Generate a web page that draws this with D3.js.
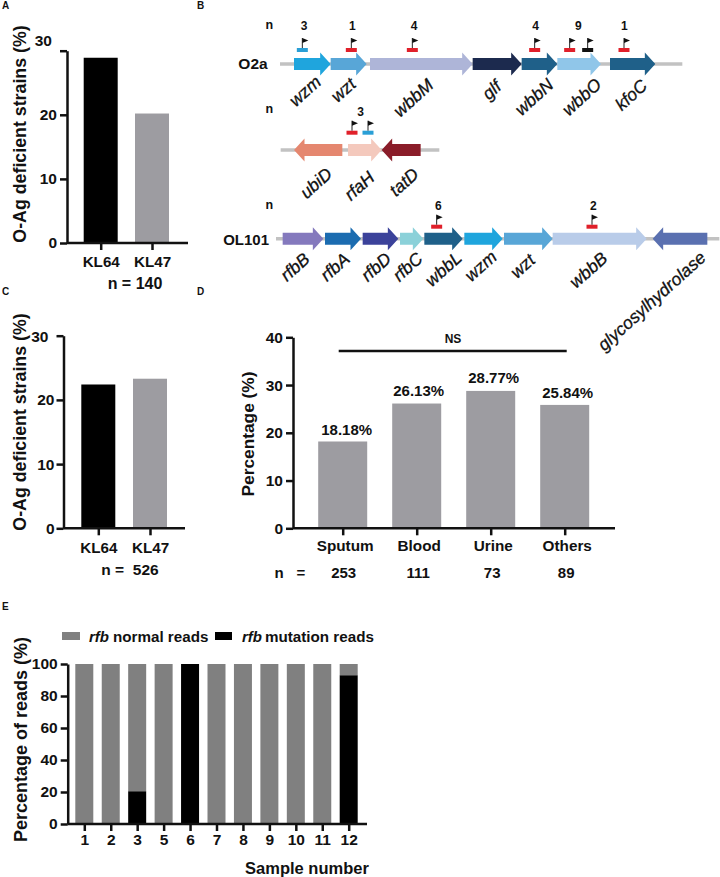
<!DOCTYPE html>
<html><head><meta charset="utf-8">
<style>html,body{margin:0;padding:0;background:#fff}svg{display:block}text{font-family:"Liberation Sans",Arial,sans-serif;font-weight:700;fill:#111}</style>
<script src="https://cdn.jsdelivr.net/npm/d3@7"></script></head><body>
<script>
// ---- Data ----
const klCategories=["KL64","KL47"];
const panelAValues=[28.9,20.2];
const panelCValues=[22.4,23.3];
const axisTicks30=[0,10,20,30];
const sourceCategories=["Sputum","Blood","Urine","Others"];
const sourceValues=[18.18,26.13,28.77,25.84];
const sourceN=[253,111,73,89];
const sourceTicks=[0,10,20,30,40];
const sampleCategories=["1","2","3","5","6","7","8","9","10","11","12"];
const mutationValues=[0,0,20.5,0,100,0,0,0,0,0,93];
const normalValues=mutationValues.map(v=>100-v);
const sampleTicks=[0,20,40,60,80,100];
// gene loci, in along-locus units
const o2aGenes=["wzm","wzt","wbbM","glf","wbbN","wbbO","kfoC"];
const o2aStart=[192,302,420,728,875,982,1140];
const o2aEnd=[302,410,728,875,982,1113,1276];
const o2aSpan=[150,1357];
const o2aFlags=[217,364,547,914,1019,1073,1182];
const o2aCountPos=[222,367,552,917,1045,1183];
const o2aCounts=[3,1,4,4,9,1];
const rfaGenes=["ubiD","rfaH","tatD"];
const rfaStart=[337,354,572];
const rfaEnd=[192,455,455];
const rfaSpan=[152,628];
const rfaFlags=[366,414];
const rfaCountPos=[392];
const rfaCounts=[3];
const ol101Genes=["rfbB","rfbA","rfbD","rfbC","wbbL","wzm","wzt","wbbB","glycosylhydrolase"];
const ol101Start=[158,285,398,510,583,703,822,968,1432];
const ol101End=[280,393,505,580,698,818,968,1250,1268];
const ol101Span=[138,1468];
const ol101Flags=[620,1086];
const ol101CountPos=[625,1090];
const ol101Counts=[6,2];
// ---- Styles ----
const o2aColors=["#1fa5dd","#58a6d7","#aeb5d8","#1c2a4e","#1f6089","#90c6e9","#1f6089"];
const rfaColors=["#e5876f","#f4c9bd","#8a1d29"];
const ol101Colors=["#8479bd","#1b6cb0","#3b429a","#8bd1d9","#1f6089","#1fa5dd","#58a6d7","#b9cce9","#5a70b0"];
const o2aFlagColors=["#2a9fd6","#e0202a","#e0202a","#e0202a","#e0202a","#111","#e0202a"];
const rfaFlagColors=["#e0202a","#2a9fd6"];
const ol101FlagColors=["#e0202a","#e0202a"];
const o2aLabelX=[225,340,550,785,912,1055,1203], o2aLabelY=[91,90,98,90,97,97,95];
const rfaLabelX=[258,388,522], rfaLabelY=[183,186,182];
const ol101LabelX=[195,315,438,533,640,752,878,1075,1265], ol101LabelY=[267,267,267,267,269,266,266,270,301];
const GREY="#9d9ca1", AX="#111";

const svg=d3.select("body").append("svg").attr("width",720).attr("height",877);
const txt=(x,y,s,size,anchor="middle")=>svg.append("text").attr("x",x).attr("y",y).attr("dominant-baseline","central")
  .attr("text-anchor",anchor).attr("font-size",size).text(s);
const vtxt=(x,y,s,size)=>svg.append("text").attr("transform",`translate(${x},${y}) rotate(-90)`).attr("dominant-baseline","central")
  .attr("text-anchor","middle").attr("font-size",size).text(s);

[["A",2,5],["B",197,5],["C",2,291],["D",197,291],["E",2,606]].forEach(d=>txt(d[1],d[2],d[0],10,"start"));

function frame(o){
  const y=d3.scaleLinear().domain([0,o.max]).range([o.y0,o.yTop]);
  const x=d3.scalePoint().domain(o.cats).range([o.c0,o.c1]);
  const g=svg.append("g");
  const ay=g.append("g").attr("transform",`translate(${o.left},0)`).call(d3.axisLeft(y).tickValues(o.ticks).tickSize(7).tickSizeOuter(0).tickPadding(3));
  const ax=g.append("g").attr("transform",`translate(0,${o.y0})`).call(d3.axisBottom(x).tickSize(7).tickPadding(o.xPad||4));
  ax.select(".domain").remove();
  g.selectAll("path,line").attr("stroke",AX).attr("stroke-width",o.sw||2.5);
  g.append("line").attr("x1",o.left).attr("x2",o.right).attr("y1",o.y0).attr("y2",o.y0).attr("stroke",AX).attr("stroke-width",o.sw||2.5);
  ay.selectAll("text").attr("font-size",o.fs).style("font-family",'"Liberation Sans"').style("font-weight",700).attr("fill","#111");
  ax.selectAll("text").attr("font-size",o.xfs||o.fs).style("font-family",'"Liberation Sans"').style("font-weight",700).attr("fill","#111");
  return {x,y,g,ay,ax};
}
function bars(f,cats,vals,w,colors,base){
  f.g.insert("g",":first-child").selectAll("rect").data(vals).join("rect")
   .attr("x",(d,i)=>f.x(cats[i])-w/2).attr("width",w)
   .attr("y",(d,i)=>f.y((base?base[i]:0)+d)).attr("height",(d,i)=>f.y(base?base[i]:0)-f.y((base?base[i]:0)+d))
   .attr("fill",(d,i)=>typeof colors==="string"?colors:colors[i]);
}
// Panel A
const fA=frame({left:67,right:188,y0:243,yTop:50.7,max:30,ticks:axisTicks30,cats:klCategories,c0:100.7,c1:152,fs:15.5,xfs:15.2,xPad:6});
bars(fA,klCategories,panelAValues,34,["#000",GREY]);
fA.ay.selectAll("text").filter(d=>d===30).attr("dx",-5).attr("y",-10);
vtxt(20,134,"O-Ag deficient strains (%)",17.8);
txt(135,283,"n = 140",16);
// Panel C
const fC=frame({left:63.5,right:185,y0:528.3,yTop:335.7,max:30,ticks:axisTicks30,cats:klCategories,c0:98.3,c1:150,fs:15.5,xfs:15.2,xPad:7});
bars(fC,klCategories,panelCValues,34,["#000",GREY]);
fC.ay.selectAll("text").attr("dx",1);
fC.ay.selectAll("text").filter(d=>d===30).attr("dx",-5).attr("y",1);
vtxt(20,422,"O-Ag deficient strains (%)",17.8);
txt(130,569,"n =  526",15.5).attr("xml:space","preserve");
// Panel D
const fD=frame({left:293,right:615,y0:528.3,yTop:337.3,max:40,ticks:sourceTicks,cats:sourceCategories,c0:342.7,c1:564.7,fs:15.5,xfs:15.3,xPad:5});
bars(fD,sourceCategories,sourceValues,49,GREY);
fD.ax.selectAll("text").attr("dx",2);
vtxt(248,434,"Percentage (%)",17.3);
svg.append("line").attr("x1",fD.x("Sputum")-4).attr("x2",fD.x("Others")+2).attr("y1",351).attr("y2",351).attr("stroke","#111").attr("stroke-width",2.4);
txt(453,339,"NS",12);
sourceValues.forEach((v,i)=>txt(fD.x(sourceCategories[i])+(i==0?4:i==1?2:3),fD.y(v)-(i==0?12:i==1?13:i==2?13:12),v.toFixed(2)+"%",15));
sourceN.forEach((v,i)=>txt(fD.x(sourceCategories[i])+(i==0?1:1.5),572,v,15));
txt(279,572,"n",15); txt(301,572,"=",15);
// Panel E
const fE=frame({left:67.7,right:367,y0:824,yTop:664,max:100,ticks:sampleTicks,cats:sampleCategories,c0:84.3,c1:348.7,fs:15.5,xPad:3});
bars(fE,sampleCategories,normalValues,18,"#808080",mutationValues);
bars(fE,sampleCategories,mutationValues,18,"#000");
vtxt(21,739.5,"Percentage of reads (%)",18);
txt(307,868,"Sample number",16.5);
svg.append("rect").attr("x",62).attr("y",632).attr("width",18).attr("height",8).attr("fill","#808080");
svg.append("rect").attr("x",215).attr("y",632).attr("width",17).attr("height",8).attr("fill","#000");
txt(89,636,"rfb",15,"start").attr("font-style","italic");
txt(113,636,"normal reads",15.2,"start");
txt(242,636,"rfb",15,"start").attr("font-style","italic");
txt(265,636,"mutation reads",15.2,"start");
// Panel B
const gx=d3.scaleLinear().domain([0,1470]).range([230,720]);
function locus(L){
  svg.append("line").attr("x1",gx(L.span[0])).attr("x2",gx(L.span[1])).attr("y1",L.y).attr("y2",L.y).attr("stroke","#c2c2c2").attr("stroke-width",3.6);
  L.genes.forEach((name,i)=>{
    const a=gx(L.start[i]), b=gx(L.end[i]), dir=b>a?1:-1, h=Math.min(10.5,Math.abs(b-a)*0.6), neck=b-dir*h;
    const p=[[a,L.y-6],[neck,L.y-6],[neck,L.y-11.5],[b,L.y],[neck,L.y+11.5],[neck,L.y+6],[a,L.y+6]];
    svg.append("path").attr("d",d3.line()(p)+"Z").attr("fill",L.colors[i]);
    svg.append("text").attr("transform",`translate(${gx(L.lx[i])},${L.ly[i]}) rotate(-42)`).attr("text-anchor","middle")
      .attr("dominant-baseline","central").attr("font-size",17.5).attr("font-style","italic").style("font-weight",400).style("stroke","#111").style("stroke-width",.3).text(name);
  });
  L.flags.forEach((p,i)=>{
    const x=gx(p);
    svg.append("rect").attr("x",x-5.5).attr("y",L.flagY-2).attr("width",11).attr("height",4).attr("fill",L.flagColors[i]);
    svg.append("line").attr("x1",x).attr("x2",x).attr("y1",L.flagY-12).attr("y2",L.flagY-2).attr("stroke","#222").attr("stroke-width",1);
    svg.append("path").attr("d",d3.line()([[x,L.flagY-12],[x+6,L.flagY-9.5],[x,L.flagY-7]])+"Z").attr("fill","#111");
  });
  L.countPos.forEach((p,i)=>txt(gx(p),L.countY,L.counts[i],12));
  txt(gx(118),L.nY,"n",12.5);
}
locus({span:o2aSpan,y:64,genes:o2aGenes,start:o2aStart,end:o2aEnd,colors:o2aColors,lx:o2aLabelX,ly:o2aLabelY,flags:o2aFlags,flagColors:o2aFlagColors,flagY:50,countPos:o2aCountPos,counts:o2aCounts,countY:25.5,nY:25});
locus({span:rfaSpan,y:150,genes:rfaGenes,start:rfaStart,end:rfaEnd,colors:rfaColors,lx:rfaLabelX,ly:rfaLabelY,flags:rfaFlags,flagColors:rfaFlagColors,flagY:132.7,countPos:rfaCountPos,counts:rfaCounts,countY:112,nY:109});
locus({span:ol101Span,y:238.7,genes:ol101Genes,start:ol101Start,end:ol101End,colors:ol101Colors,lx:ol101LabelX,ly:ol101LabelY,flags:ol101Flags,flagColors:ol101FlagColors,flagY:226.7,countPos:ol101CountPos,counts:ol101Counts,countY:206,nY:205});
txt(253,63,"O2a",15.5);
txt(269,239,"OL101",15,"end");
</script></body></html>
